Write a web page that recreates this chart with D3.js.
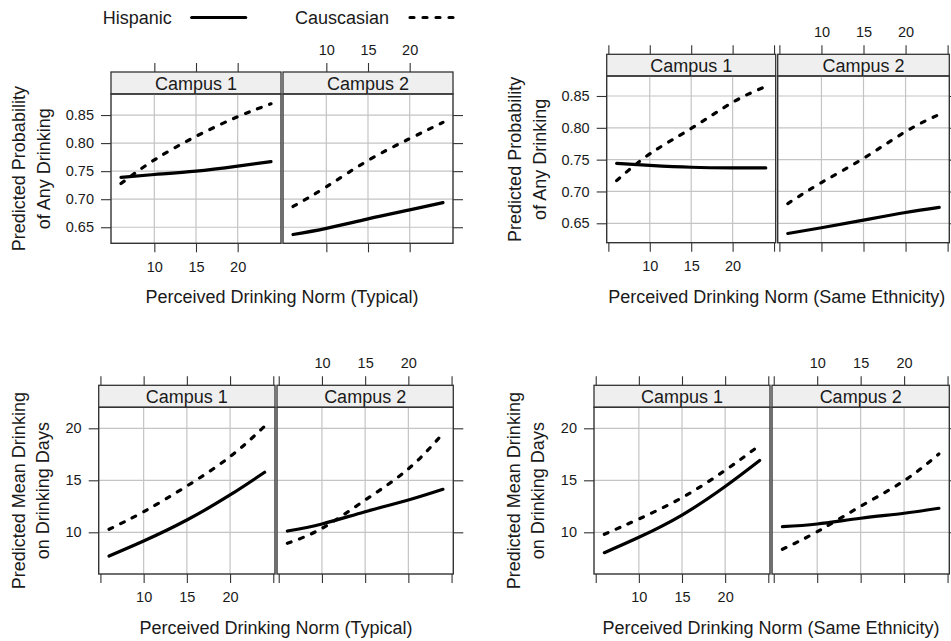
<!DOCTYPE html>
<html><head><meta charset="utf-8">
<script src="https://cdn.jsdelivr.net/npm/d3@7"></script>
<style>
body{margin:0;background:#fff}
svg{display:block}
text{font-family:"Liberation Sans",Arial,Helvetica,sans-serif;fill:#1a1a1a}
</style>
</head><body><svg id="c" width="951" height="641"></svg>
<script>
// ---------- data ----------
const campuses = ["Campus 1", "Campus 2"];
const groups = ["Hispanic", "Causcasian"];
const normX = [6, 10, 15, 20, 24];
const xTickValues = [5, 10, 15, 20, 25];
const xTickLabels = [10, 15, 20];
const probTicks = [0.65, 0.70, 0.75, 0.80, 0.85];
const meanTicks = [10, 15, 20];

// Predicted probability of any drinking vs typical norm
const anyTypHispC1 = [0.739, 0.744, 0.750, 0.759, 0.767];
const anyTypCaucC1 = [0.728, 0.770, 0.812, 0.847, 0.870];
const anyTypHispC2 = [0.637, 0.648, 0.665, 0.681, 0.694];
const anyTypCaucC2 = [0.687, 0.722, 0.769, 0.808, 0.837];
// Predicted probability of any drinking vs same-ethnicity norm
const anySameHispC1 = [0.744, 0.741, 0.738, 0.737, 0.737];
const anySameCaucC1 = [0.717, 0.759, 0.799, 0.840, 0.865];
const anySameHispC2 = [0.634, 0.643, 0.655, 0.667, 0.675];
const anySameCaucC2 = [0.681, 0.714, 0.752, 0.794, 0.821];
// Predicted mean drinking on drinking days vs typical norm
const meanTypHispC1 = [7.72, 9.16, 11.18, 13.59, 15.77];
const meanTypCaucC1 = [10.29, 11.98, 14.45, 17.27, 20.2];
const meanTypHispC2 = [10.12, 10.8, 11.98, 13.1, 14.13];
const meanTypCaucC2 = [8.94, 10.38, 13.1, 16.1, 19.5];
// Predicted mean drinking on drinking days vs same-ethnicity norm
const meanSameHispC1 = [8.04, 9.52, 11.66, 14.4, 16.9];
const meanSameCaucC1 = [9.81, 11.28, 13.33, 15.96, 18.37];
const meanSameHispC2 = [10.54, 10.8, 11.35, 11.83, 12.31];
const meanSameCaucC2 = [8.37, 10.06, 12.5, 14.96, 17.53];

const xDomain = [4.8, 25.2];
const probDomainA = [0.6214, 0.8875];
const probDomainB = [0.6195, 0.8814];
const meanDomain = [5.99, 22.02];

const probTitle = ["Predicted Probability", "of Any Drinking"];
const meanTitle = ["Predicted Mean Drinking", "on Drinking Days"];
const typTitle = "Perceived Drinking Norm (Typical)";
const sameTitle = "Perceived Drinking Norm (Same Ethnicity)";

// ---------- layout ----------
const figs = [
  {L:111, D:282, R:453, sT:72, sB:94, pB:243.3, edge:false, yDomain:probDomainA, yTicks:probTicks, fmt:d3.format(".2f"),
   ytitle:probTitle, yt1:92, yt2:67, xtitle:typTitle,
   series:[[anyTypHispC1, anyTypCaucC1],[anyTypHispC2, anyTypCaucC2]]},
  {L:606.7, D:776.7, R:949.3, sT:54.3, sB:76, pB:242.7, edge:true, yDomain:probDomainB, yTicks:probTicks, fmt:d3.format(".2f"),
   ytitle:probTitle, yt1:92, yt2:67, xtitle:sameTitle,
   series:[[anySameHispC1, anySameCaucC1],[anySameHispC2, anySameCaucC2]]},
  {L:98.7, D:276, R:453.3, sT:385.3, sB:407.3, pB:574, edge:true, yDomain:meanDomain, yTicks:meanTicks, fmt:d3.format("d"),
   ytitle:meanTitle, yt1:80, yt2:56, xtitle:typTitle,
   series:[[meanTypHispC1, meanTypCaucC1],[meanTypHispC2, meanTypCaucC2]]},
  {L:594, D:771, R:949.3, sT:385.3, sB:407.3, pB:574, edge:true, yDomain:meanDomain, yTicks:meanTicks, fmt:d3.format("d"),
   ytitle:meanTitle, yt1:80, yt2:56, xtitle:sameTitle,
   series:[[meanSameHispC1, meanSameCaucC1],[meanSameHispC2, meanSameCaucC2]]}
];

const svg = d3.select("#c");
const axisCol = "#333";
const gridCol = "#c4c4c4";
const dash = "4,9";

function styleAxis(g) {
  g.select(".domain").remove();
  g.selectAll(".tick line").attr("stroke", axisCol).attr("stroke-width", 1.1);
  g.selectAll(".tick text").style("font-size", "14.5px").attr("fill", "#1a1a1a")
    .style("font-family", '"Liberation Sans",Arial,sans-serif');
}

figs.forEach(f => {
  const g = svg.append("g");
  const y = d3.scaleLinear().domain(f.yDomain).range([f.pB, f.sB]);
  const panels = [[f.L, f.D - 1], [f.D + 1, f.R]];
  panels.forEach((pr, pi) => {
    const x = d3.scaleLinear().domain(xDomain).range(pr);
    // strip
    g.append("rect").attr("x", pr[0]).attr("y", f.sT).attr("width", pr[1] - pr[0]).attr("height", f.sB - f.sT)
      .attr("fill", "#efefef").attr("stroke", axisCol).attr("stroke-width", 1.3);
    g.append("text").attr("x", (pr[0] + pr[1]) / 2).attr("y", (f.sT + f.sB) / 2 + 1)
      .attr("text-anchor", "middle").attr("dominant-baseline", "central")
      .style("font-size", "18px").text(campuses[pi]);
    // grid
    g.append("g").selectAll("line.v").data(xTickLabels).join("line")
      .attr("x1", d => x(d)).attr("x2", d => x(d)).attr("y1", f.sB).attr("y2", f.pB)
      .attr("stroke", gridCol).attr("stroke-width", 1.2);
    g.append("g").selectAll("line.h").data(f.yTicks).join("line")
      .attr("x1", pr[0]).attr("x2", pr[1]).attr("y1", d => y(d)).attr("y2", d => y(d))
      .attr("stroke", gridCol).attr("stroke-width", 1.2);
    // lines
    const line = d3.line().x((d, i) => x(normX[i])).y(d => y(d)).curve(d3.curveNatural);
    f.series[pi].forEach((vals, si) => {
      g.append("path").datum(vals).attr("d", line).attr("fill", "none")
        .attr("stroke", "#000").attr("stroke-width", 3.2).attr("stroke-linecap", "round")
        .attr("stroke-dasharray", si === 1 ? dash : null);
    });
    // panel box
    g.append("rect").attr("x", pr[0]).attr("y", f.sB).attr("width", pr[1] - pr[0]).attr("height", f.pB - f.sB)
      .attr("fill", "none").attr("stroke", axisCol).attr("stroke-width", 1.4);
    // x axes
    const tv = f.edge ? xTickValues : xTickLabels;
    const lab = d => xTickLabels.includes(d) ? d : "";
    const top = d3.axisTop(x).tickValues(tv).tickSize(9).tickPadding(8)
      .tickFormat(pi === 1 ? lab : () => "");
    g.append("g").attr("transform", `translate(0,${f.sT})`).call(top).call(styleAxis);
    const bot = d3.axisBottom(x).tickValues(tv).tickSize(9).tickPadding(9)
      .tickFormat(pi === 0 ? lab : () => "");
    g.append("g").attr("transform", `translate(0,${f.pB})`).call(bot).call(styleAxis);
  });
  // y axes
  g.append("g").attr("transform", `translate(${f.L},0)`)
    .call(d3.axisLeft(y).tickValues(f.yTicks).tickSize(10).tickPadding(7).tickFormat(f.fmt)).call(styleAxis);
  g.append("g").attr("transform", `translate(${f.R},0)`)
    .call(d3.axisRight(y).tickValues(f.yTicks).tickSize(10).tickFormat(() => "")).call(styleAxis);
  // y title
  const cy = (f.sB + f.pB) / 2;
  [[f.ytitle[0], f.L - f.yt1], [f.ytitle[1], f.L - f.yt2]].forEach(([t, cx]) => {
    g.append("text").attr("transform", `translate(${cx},${cy}) rotate(-90)`)
      .attr("text-anchor", "middle").attr("dominant-baseline", "central")
      .style("font-size", "18px").text(t);
  });
  // x title
  g.append("text").attr("x", f.D).attr("y", f.pB + 54).attr("text-anchor", "middle")
    .attr("dominant-baseline", "central").style("font-size", "18px").text(f.xtitle);
});

// legend
const leg = svg.append("g");
const legItems = [{label: groups[0], tx: 102.7, x1: 191.7, x2: 245.7, d: null},
                  {label: groups[1], tx: 295, x1: 410, x2: 455, d: dash}];
legItems.forEach(it => {
  leg.append("text").attr("x", it.tx).attr("y", 18).attr("dominant-baseline", "central")
    .style("font-size", "18px").text(it.label);
  leg.append("line").attr("x1", it.x1).attr("x2", it.x2).attr("y1", 17.5).attr("y2", 17.5)
    .attr("stroke", "#000").attr("stroke-width", 3.2).attr("stroke-linecap", "round")
    .attr("stroke-dasharray", it.d);
});
</script>
</body></html>
